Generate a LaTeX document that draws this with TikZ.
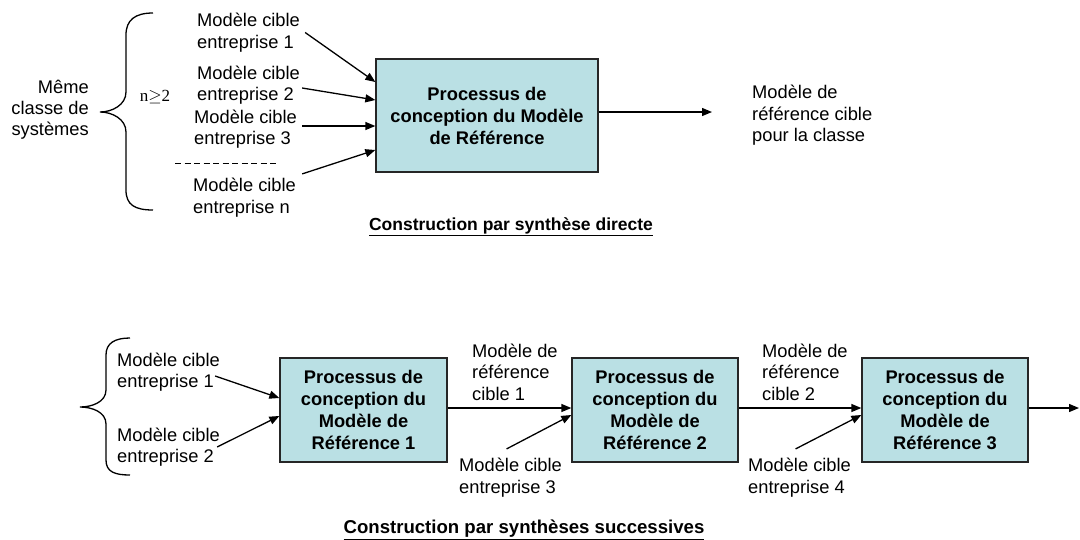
\documentclass[tikz,border=0pt]{standalone}
\usepackage{fontspec}
\setmainfont{Liberation Sans}
\newfontfamily\timesfont{Liberation Serif}
\usetikzlibrary{arrows.meta,calc}
\definecolor{boxfill}{RGB}{186,224,228}
\begin{document}
\begin{tikzpicture}[x=1pt,y=-1pt,
  lbl/.style={inner sep=0pt, align=left, font=\fontsize{18.3}{21.5}\selectfont},
  lblr/.style={inner sep=0pt, align=right, font=\fontsize{18.3}{21}\selectfont},
  proc/.style={draw=black!85, line width=1.3pt, fill=boxfill, inner sep=0pt, align=center,
    font=\fontsize{18.3}{22}\selectfont\bfseries},
  arr/.style={line width=1.3pt, -{Triangle[length=10pt,width=8pt]}},
  ttl/.style={inner sep=0pt, font=\fontsize{17.5}{21}\selectfont\bfseries},
  bracestyle/.style={line width=1.3pt}]
\useasboundingbox (0,0) rectangle (1080,539);
\fill[white] (0,0) rectangle (1080,539);

% ---------- Top: synthese directe ----------
\node[proc, minimum width=222pt, minimum height=113pt] (P0) at (487,115.5)
  {Processus de\\conception du Modèle\\de Référence};

\node[lblr, anchor=east] (meme) at (89,110) {Même\\classe de\\systèmes};
\node[inner sep=0pt, font=\timesfont\fontsize{17}{20}\selectfont] (ncond) at (155,97) {n$\geq$2};
\draw[bracestyle] (153,13) .. controls (135,13) and (126,20) .. (126,35) -- (126,92)
  .. controls (126,105) and (112,112) .. (100,112)
  .. controls (112,112) and (126,119) .. (126,132) -- (126,190)
  .. controls (126,205) and (135,210) .. (153,210);

\node[lbl, anchor=west] (e1) at (197,32.5) {Modèle cible\\entreprise 1};
\node[lbl, anchor=west] (e2) at (197,85) {Modèle cible\\entreprise 2};
\node[lbl, anchor=west] (e3) at (194,129) {Modèle cible\\entreprise 3};
\node[lbl, anchor=west] (en) at (193,197.5) {Modèle cible\\entreprise n};
\draw[line width=0.9pt, dash pattern=on 6pt off 3.5pt] (175,163) -- (278,163);

\draw[arr] ([xshift=5pt]e1.east) -- ([yshift=33.5pt]P0.west);
\draw[arr] ([xshift=2pt,yshift=-3pt]e2.east) -- ([yshift=15.5pt]P0.west);
\draw[arr] ([xshift=5pt,yshift=3pt]e3.east) -- ([yshift=-10.5pt]P0.west);
\draw[arr] ([xshift=6pt,yshift=4pt]en.north east) -- ([yshift=-34.5pt]P0.west);

\node[lbl, anchor=west] (out0) at (752,115.5) {Modèle de\\référence cible\\pour la classe};
\coordinate (out0tip) at (712,112);
\draw[arr] (P0.east |- out0tip) -- (out0tip);

\node[ttl] (t1) at (511,227) {\underline{Construction par synthèse directe}};

% ---------- Bottom: syntheses successives ----------
\node[proc, minimum width=167pt, minimum height=104pt] (P1) at (363.5,410)
  {Processus de\\conception du\\Modèle de\\Référence 1};
\node[proc, minimum width=166pt, minimum height=104pt] (P2) at (655,410)
  {Processus de\\conception du\\Modèle de\\Référence 2};
\node[proc, minimum width=166pt, minimum height=104pt] (P3) at (945,410)
  {Processus de\\conception du\\Modèle de\\Référence 3};

\draw[bracestyle] (130,338) .. controls (115,338) and (106,343) .. (106,355) -- (106,390)
  .. controls (106,402) and (92,407) .. (80,407)
  .. controls (92,407) and (106,412) .. (106,424) -- (106,460)
  .. controls (106,472) and (115,475) .. (130,475);

\node[lbl, anchor=west] (b1) at (117,372) {Modèle cible\\entreprise 1};
\node[lbl, anchor=west] (b2) at (117,447) {Modèle cible\\entreprise 2};
\draw[arr] ([xshift=-5pt,yshift=-4pt]b1.east) -- ([yshift=12pt]P1.west);
\draw[arr] ([xshift=-3pt,yshift=0pt]b2.east) -- ([yshift=-6pt]P1.west);

\node[lbl, anchor=west] (r1) at (472,372) {Modèle de\\référence\\cible 1};
\node[lbl, anchor=west] (b3) at (459,477.5) {Modèle cible\\entreprise 3};
\draw[arr] ([yshift=2pt]P1.east) -- ([yshift=2pt]P2.west);
\draw[arr] ([xshift=-4pt,yshift=9pt]b3.north) -- ([yshift=-5pt]P2.west);

\node[lbl, anchor=west] (r2) at (762,372) {Modèle de\\référence\\cible 2};
\node[lbl, anchor=west] (b4) at (748,477.5) {Modèle cible\\entreprise 4};
\draw[arr] ([yshift=2pt]P2.east) -- ([yshift=2pt]P3.west);
\draw[arr] ([xshift=-4pt,yshift=9pt]b4.north) -- ([yshift=-5pt]P3.west);

\coordinate (endtip) at (1079,408);
\draw[arr] ([yshift=2pt]P3.east) -- (endtip);

\node[ttl, font=\fontsize{18.6}{21}\selectfont\bfseries] (t2) at (524,530) {\underline{Construction par synthèses successives}};
\end{tikzpicture}
\end{document}
